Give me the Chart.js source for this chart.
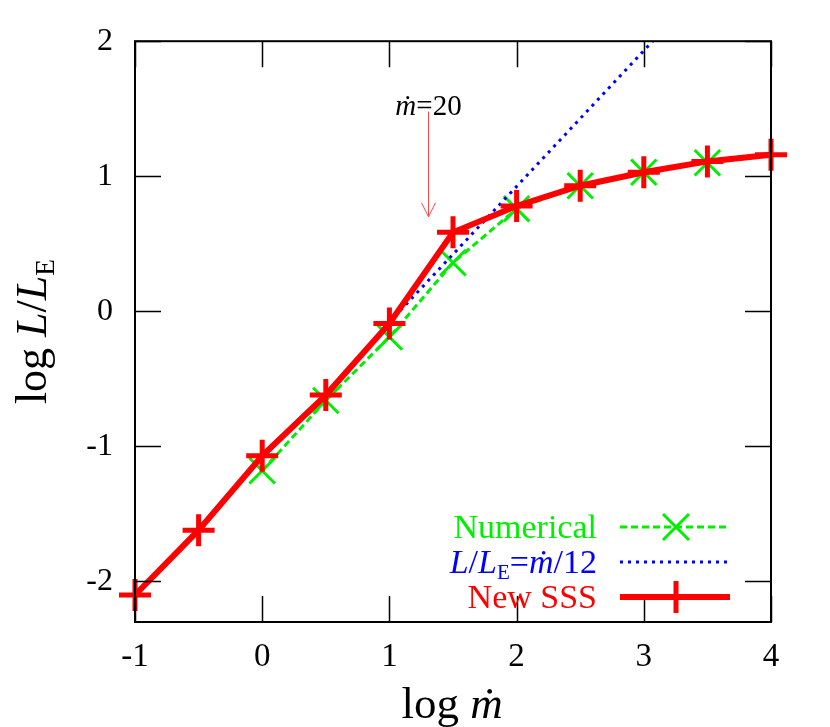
<!DOCTYPE html>
<html>
<head>
<meta charset="utf-8">
<script src="https://cdn.jsdelivr.net/npm/chart.js@4/dist/chart.umd.min.js"></script>
<style>
    html, body { margin: 0; padding: 0; background: #fff; }
    #wrap { width: 830px; height: 727px; }
</style>
</head>
<body>
<div id="wrap"><canvas id="chart" width="830" height="727"></canvas></div>
<script>
// ===================================
// Data
// ===================================
const sssX = [-1, -0.5, 0, 0.5, 1, 1.5, 2, 2.5, 3, 3.5, 4];
const sssY = [-2.10, -1.62, -1.07, -0.62, -0.09, 0.585, 0.78, 0.93, 1.03, 1.11, 1.16];

const numX = [0, 0.5, 1, 1.5, 2, 2.5, 3, 3.5];
const numY = [-1.18, -0.66, -0.19, 0.36, 0.76, 0.93, 1.03, 1.10];

const fitX = [1, 3.07];
const fitY = [-0.08, 2.0];

const xTicks = [-1, 0, 1, 2, 3, 4];
const yTicks = [-2, -1, 0, 1, 2];

// mdot = 20 marker
const markX = Math.log10(20);
const markTextY = 1.53;
const markTipY = 0.70;

const SERIF = '"Liberation Serif", "DejaVu Serif", serif';
const RED = '#ff0000';
const GREEN = '#00ee00';
const BLUE = '#0000ff';

const toPoints = (xs, ys) => xs.map((x, i) => ({ x: x, y: ys[i] }));

// draw a run of text pieces: {t, it, sub}
function richWidth(ctx, parts, size) {
    let w = 0;
    parts.forEach(p => {
        const s = p.sub ? size * 0.62 : size;
        ctx.font = (p.it ? 'italic ' : '') + s + 'px ' + SERIF;
        w += ctx.measureText(p.t).width;
    });
    return w;
}

function drawRich(ctx, parts, x, y, size, color, align) {
    const w = richWidth(ctx, parts, size);
    let cx = x;
    if (align === 'right') cx = x - w;
    if (align === 'center') cx = x - w / 2;
    ctx.fillStyle = color;
    ctx.textBaseline = 'alphabetic';
    ctx.textAlign = 'left';
    parts.forEach(p => {
        const s = p.sub ? size * 0.62 : size;
        ctx.font = (p.it ? 'italic ' : '') + s + 'px ' + SERIF;
        ctx.fillText(p.t, cx, p.sub ? y + size * 0.18 : y);
        cx += ctx.measureText(p.t).width;
    });
}

const decorPlugin = {
    id: 'decor',
    afterDraw(chart) {
        const ctx = chart.ctx;
        const a = chart.chartArea;
        const xs = chart.scales.x;
        const ys = chart.scales.y;
        const tick = 26;

        ctx.save();
        ctx.strokeStyle = '#000';
        ctx.lineWidth = 1.5;

        // inward ticks on all four sides
        ctx.beginPath();
        xTicks.forEach(v => {
            const px = Math.round(xs.getPixelForValue(v)) + 0.5;
            ctx.moveTo(px, a.bottom); ctx.lineTo(px, a.bottom - tick);
            ctx.moveTo(px, a.top); ctx.lineTo(px, a.top + tick);
        });
        yTicks.forEach(v => {
            const py = Math.round(ys.getPixelForValue(v)) + 0.5;
            ctx.moveTo(a.left, py); ctx.lineTo(a.left + tick, py);
            ctx.moveTo(a.right, py); ctx.lineTo(a.right - tick, py);
        });
        ctx.stroke();

        // frame
        ctx.lineWidth = 2;
        ctx.strokeRect(a.left, a.top, a.right - a.left, a.bottom - a.top);

        // axis titles
        drawRich(ctx, [{ t: 'log ' }, { t: 'ṁ', it: true }], (a.left + a.right) / 2 - 1, 718, 45, '#000', 'center');
        ctx.save();
        ctx.translate(46, (a.top + a.bottom) / 2);
        ctx.rotate(-Math.PI / 2);
        drawRich(ctx, [{ t: 'log ' }, { t: 'L', it: true }, { t: '/' }, { t: 'L', it: true }, { t: 'E', sub: true }],
            0, 0, 44, '#000', 'center');
        ctx.restore();

        // mdot = 20 arrow
        const mx = Math.round(xs.getPixelForValue(markX)) + 0.5;
        const tipY = ys.getPixelForValue(markTipY);
        const textY = ys.getPixelForValue(markTextY);
        drawRich(ctx, [{ t: 'ṁ', it: true }, { t: '=20' }], mx, textY + 10, 29, '#000', 'center');
        ctx.strokeStyle = '#ff4848';
        ctx.lineWidth = 1;
        ctx.beginPath();
        ctx.moveTo(mx, textY + 7);
        ctx.lineTo(mx, tipY);
        ctx.moveTo(mx - 7, tipY - 14);
        ctx.lineTo(mx, tipY);
        ctx.lineTo(mx + 7, tipY - 14);
        ctx.stroke();

        // legend
        const rows = [
            { y: 527, parts: [{ t: 'Numerical' }], color: GREEN, dash: [7, 4], width: 3, marker: 'x' },
            { y: 562, parts: [{ t: 'L', it: true }, { t: '/' }, { t: 'L', it: true }, { t: 'E', sub: true },
                { t: '=' }, { t: 'ṁ', it: true }, { t: '/12' }], color: BLUE, dash: [3, 5], width: 3 },
            { y: 597, parts: [{ t: 'New SSS' }], color: RED, dash: [], width: 6, marker: '+' }
        ];
        rows.forEach(r => {
            drawRich(ctx, r.parts, 597, r.y + 11, 34, r.color, 'right');
            ctx.strokeStyle = r.color;
            ctx.lineWidth = r.width;
            ctx.setLineDash(r.dash);
            ctx.beginPath();
            ctx.moveTo(620, r.y); ctx.lineTo(730, r.y);
            ctx.stroke();
            ctx.setLineDash([]);
            if (r.marker === 'x') {
                ctx.lineWidth = 3;
                ctx.beginPath();
                ctx.moveTo(663, r.y - 13); ctx.lineTo(689, r.y + 13);
                ctx.moveTo(663, r.y + 13); ctx.lineTo(689, r.y - 13);
                ctx.stroke();
            } else if (r.marker === '+') {
                ctx.lineWidth = 5;
                ctx.beginPath();
                ctx.moveTo(676, r.y - 16); ctx.lineTo(676, r.y + 16);
                ctx.moveTo(660, r.y); ctx.lineTo(692, r.y);
                ctx.stroke();
            }
        });
        ctx.restore();
    }
};

const chart = new Chart(document.getElementById('chart').getContext('2d'), {
    type: 'scatter',
    data: {
        datasets: [
            {
                label: 'New SSS',
                data: toPoints(sssX, sssY),
                showLine: true,
                borderColor: RED,
                backgroundColor: RED,
                borderWidth: 6,
                pointStyle: 'cross',
                pointRadius: 16,
                pointBorderWidth: 5,
                pointBorderColor: RED
            },
            {
                label: 'L/LE = mdot/12',
                data: toPoints(fitX, fitY),
                showLine: true,
                borderColor: BLUE,
                borderWidth: 3,
                borderDash: [3, 5],
                pointRadius: 0
            },
            {
                label: 'Numerical',
                data: toPoints(numX, numY),
                showLine: true,
                borderColor: GREEN,
                backgroundColor: GREEN,
                borderWidth: 3,
                borderDash: [7, 4],
                pointStyle: 'crossRot',
                pointRadius: 18,
                pointBorderWidth: 3,
                pointBorderColor: GREEN
            }
        ]
    },
    options: {
        responsive: false,
        animation: false,
        devicePixelRatio: 1,
        clip: { left: 20, right: 20, top: 0, bottom: 20 },
        layout: { padding: { left: 0, right: 59, top: 41, bottom: 0 } },
        plugins: {
            legend: { display: false },
            tooltip: { enabled: false }
        },
        scales: {
            x: {
                type: 'linear',
                min: -1,
                max: 4,
                grid: { display: false, drawTicks: false },
                border: { display: false },
                afterBuildTicks: (s) => { s.ticks = xTicks.map(v => ({ value: v })); },
                afterFit: (s) => { s.height = 105; },
                ticks: {
                    padding: 16,
                    color: '#000',
                    font: { family: SERIF, size: 33 },
                    maxRotation: 0
                }
            },
            y: {
                type: 'linear',
                min: -2.3,
                max: 2,
                grid: { display: false, drawTicks: false },
                border: { display: false },
                afterBuildTicks: (s) => { s.ticks = yTicks.map(v => ({ value: v })); },
                afterFit: (s) => { s.width = 135; },
                ticks: {
                    padding: 22,
                    color: '#000',
                    font: { family: SERIF, size: 32 }
                }
            }
        }
    },
    plugins: [decorPlugin]
});
</script>
</body>
</html>
